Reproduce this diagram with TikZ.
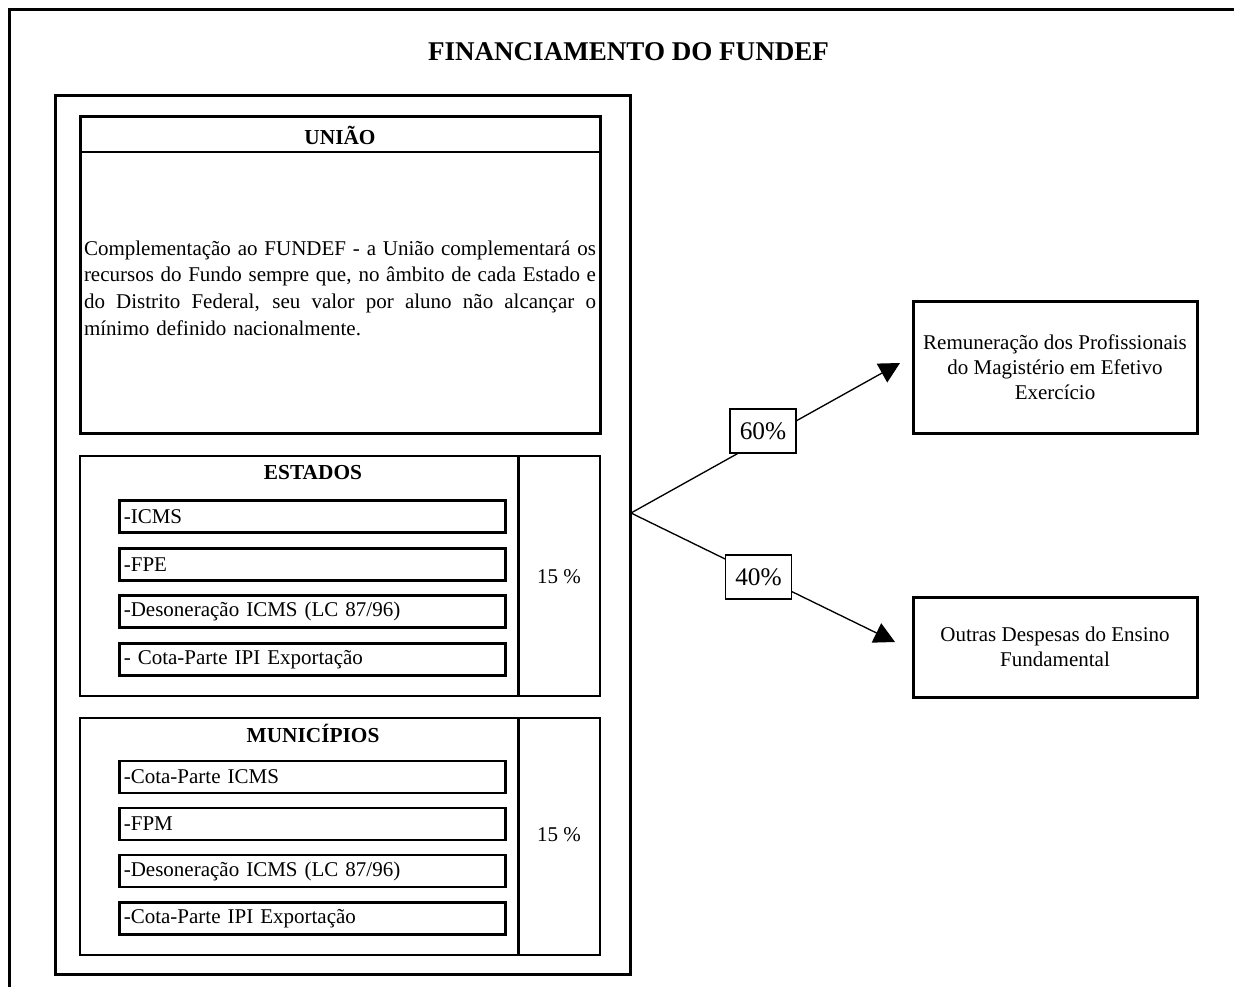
\documentclass[tikz,border=0pt]{standalone}
\usepackage{fontspec}
\setmainfont{Liberation Serif}
\usetikzlibrary{arrows.meta}
\newcommand\bodyfont{\fontsize{15.75}{19}\selectfont}
\newcommand\headfont{\bfseries\fontsize{16}{19}\selectfont}
\newcommand\jline[1]{\hbox to 384pt{\spaceskip=0.25em plus 1fil\xspaceskip=0.25em plus 1fil #1}}
\begin{document}
\begin{tikzpicture}[x=0.75pt,y=-0.75pt,
  frameline/.style={line width=2.1pt},
  bigbox/.style={draw,line width=2.25pt,inner sep=0pt},
  groupbox/.style={draw,line width=1.6pt,inner sep=0pt,minimum width=390pt},
  itembox/.style={draw,line width=2.2pt,minimum height=24pt,text width=283pt,
    inner xsep=3.5pt,inner ysep=0pt,align=left,font=\bodyfont},
  headtext/.style={font=\headfont,inner sep=0pt},
  pct/.style={font=\bodyfont,inner sep=0pt},
  share/.style={draw,fill=white,line width=1pt,minimum width=49.5pt,minimum height=33pt,
    inner sep=0pt,font=\fontsize{19}{22}\selectfont},
  destbox/.style={draw,line width=2.25pt,minimum width=213pt,inner sep=0pt,
    align=center,font=\fontsize{15.75}{18.75}\selectfont},
  flow/.style={line width=1pt,-{Triangle[length=15.5pt,width=16pt]}}]
\useasboundingbox (0,0) rectangle (1234,987);
% outer frame (top and left sides only)
\draw[frameline] (1234,9.5) -- (9.5,9.5) -- (9.5,987);
\node[font=\bfseries\fontsize{20.3}{24}\selectfont] (title) at (628.5,52) {FINANCIAMENTO DO FUNDEF};
% big box
\node[bigbox,minimum width=431.25pt,minimum height=658.5pt] (fund) at (342.5,535) {};
% Uniao
\node[bigbox,minimum width=390pt,minimum height=237pt] (uniao) at (340,275) {};
\draw[line width=1.6pt] (80,152) -- (600,152);
\node[headtext] (uniaoh) at (340,135) {UNIÃO};
\node[font=\fontsize{15.75}{20}\selectfont,text width=384pt,align=left,inner sep=0pt] (utext) at (340,288)
 {\jline{Complementação ao FUNDEF - a União complementará os}
  \jline{recursos do Fundo sempre que, no âmbito de cada Estado e}
  \jline{do Distrito Federal, seu valor por aluno não alcançar o}
  \hbox{mínimo definido nacionalmente.}};
% Estados
\node[groupbox,minimum height=180pt] (estados) at (340,576) {};
\draw[line width=1.6pt] (518.5,456) -- (518.5,696);
\node[headtext] (estadosh) at (313,473) {ESTADOS};
\node[itembox] (e1) at (312.5,516.7) {-ICMS};
\node[itembox] (e2) at (312.5,564.2) {-FPE};
\node[itembox] (e3) at (312.5,611.7) {-Desoneração ICMS (LC 87/96)};
\node[itembox] (e4) at (312.5,659.2) {- Cota-Parte IPI Exportação};
\node[pct] (epct) at (559,577) {15 \%};
% Municipios
\node[groupbox,minimum height=177.75pt] (munic) at (340,836.5) {};
\draw[line width=1.6pt] (518.5,718) -- (518.5,955);
\node[headtext] (munich) at (313,733) {MUNICÍPIOS};
\node[itembox] (m1) at (312.5,777) {-Cota-Parte ICMS};
\node[itembox] (m2) at (312.5,824) {-FPM};
\node[itembox] (m3) at (312.5,871) {-Desoneração ICMS (LC 87/96)};
\node[itembox] (m4) at (312.5,918.5) {-Cota-Parte IPI Exportação};
\node[pct] (mpct) at (559,835) {15 \%};
% destinations
\node[destbox,minimum height=98.25pt] (rem) at (1055,367.5)
 {Remuneração dos Profissionais\\do Magistério em Efetivo\\Exercício};
\node[destbox,minimum height=75pt] (outras) at (1055,647)
 {Outras Despesas do Ensino\\Fundamental};
% connectors
\coordinate (src) at (631,513);
\coordinate (t1) at (900,363);
\coordinate (t2) at (895,642);
\draw[flow] (src) -- (t1);
\draw[flow] (src) -- (t2);
\node[share] (p60) at (763,431) {60\%};
\node[share] (p40) at (758.5,577) {40\%};
\end{tikzpicture}
\end{document}
